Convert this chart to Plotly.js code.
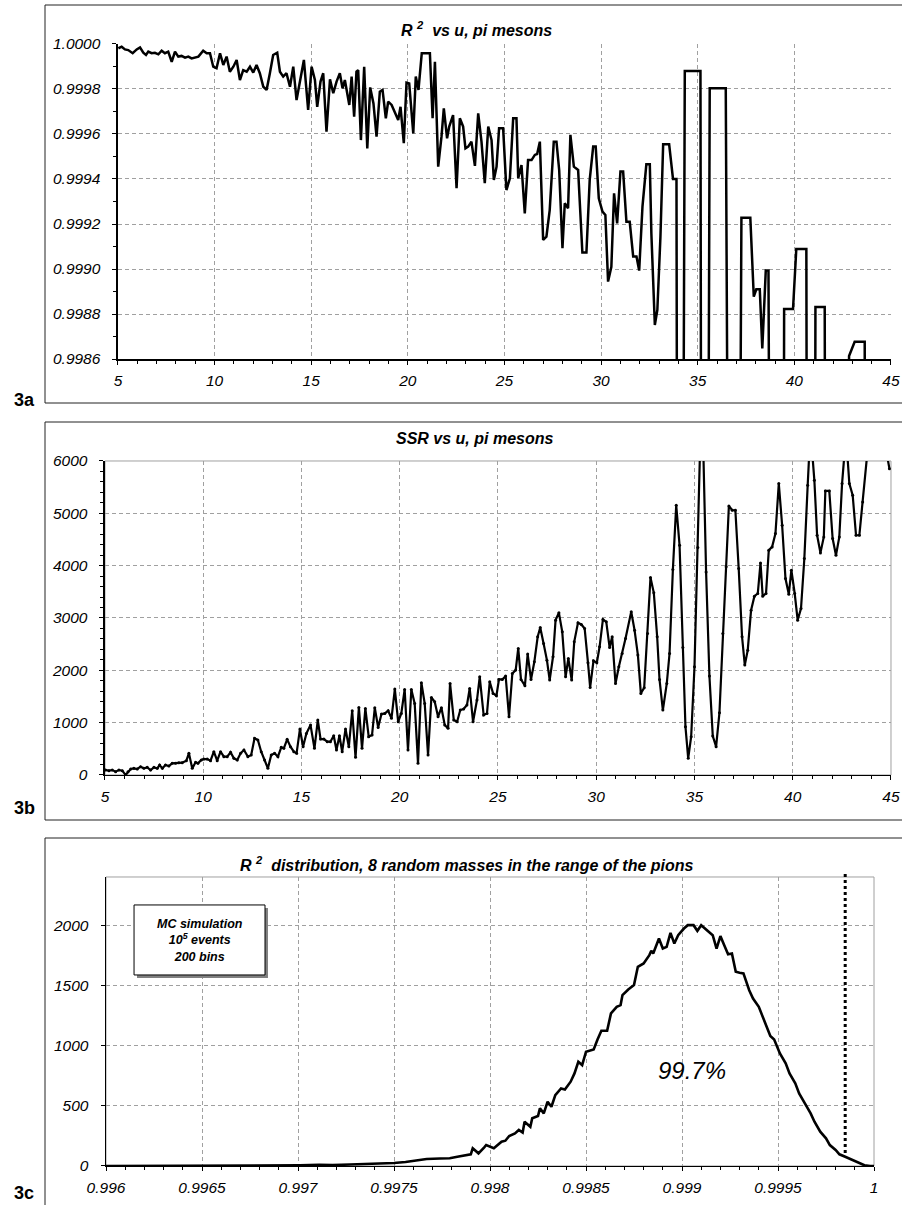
<!DOCTYPE html>
<html>
<head>
<meta charset="utf-8">
<script src="https://cdn.plot.ly/plotly-3.0.1.min.js"></script>
<style>html,body{margin:0;padding:0;background:#fff;}#chart{width:902px;height:1205px;}</style>
</head>
<body>
<div id="chart"></div>
<script>
// ---- Panel 3a: R^2 vs u ----
const u3a = [5.02,5.19,5.36,5.53,5.76,5.97,6.14,6.31,6.45,6.57,6.74,6.91,7.09,7.26,7.43,7.60,7.78,7.95,8.12,8.29,8.47,8.64,8.81,8.98,9.16,9.41,9.59,9.76,9.93,10.10,10.28,10.45,10.62,10.79,10.97,11.14,11.31,11.48,11.66,11.83,12.00,12.17,12.34,12.52,12.69,12.86,13.03,13.24,13.38,13.55,13.72,13.90,14.07,14.24,14.41,14.62,14.84,15.02,15.19,15.31,15.48,15.62,15.79,15.97,16.14,16.31,16.48,16.62,16.74,16.83,16.97,17.09,17.22,17.34,17.43,17.57,17.74,17.90,18.05,18.22,18.38,18.55,18.69,18.86,18.98,19.16,19.33,19.50,19.62,19.79,19.93,20.07,20.28,20.41,20.55,20.72,20.88,21.14,21.28,21.40,21.57,21.74,21.86,22.03,22.14,22.34,22.52,22.69,22.86,22.98,23.12,23.29,23.47,23.64,23.81,23.98,24.16,24.33,24.45,24.59,24.72,24.93,25.10,25.28,25.45,25.62,25.71,25.88,26.05,26.22,26.40,26.57,26.69,26.83,27.00,27.17,27.34,27.55,27.69,27.83,28.00,28.12,28.29,28.41,28.59,28.81,29.03,29.24,29.41,29.59,29.72,29.88,30.07,30.22,30.36,30.53,30.67,30.83,31.00,31.14,31.31,31.48,31.66,31.83,31.97,32.14,32.34,32.52,32.60,32.78,32.91,33.07,33.21,33.52,33.72,33.90,33.97,34.17,34.33,35.14,35.21,35.47,35.62,36.45,36.67,37.07,37.26,37.72,37.90,38.03,38.21,38.34,38.52,38.66,38.81,39.41,39.47,39.93,40.10,40.62,40.69,41.03,41.09,41.57,41.64,42.76,42.83,43.12,43.64,43.69,45.00];
const r2_3a = [0.999981,0.999988,0.999976,0.999973,0.999959,0.999976,0.999985,0.999961,0.999951,0.999966,0.999959,0.999961,0.999954,0.99997,0.999959,0.999966,0.999921,0.999966,0.999944,0.999947,0.999939,0.999944,0.999936,0.999941,0.999944,0.99997,0.999959,0.999959,0.999899,0.999892,0.999959,0.999907,0.999944,0.999877,0.999899,0.999929,0.99984,0.999884,0.999877,0.999899,0.999873,0.999907,0.99987,0.99981,0.999796,0.99987,0.999951,0.999961,0.999877,0.999855,0.99987,0.99981,0.999899,0.999751,0.999833,0.999929,0.999707,0.999899,0.99984,0.999721,0.999833,0.99987,0.99961,0.999843,0.999781,0.999833,0.99987,0.999803,0.99984,0.999796,0.999729,0.999855,0.999677,0.999877,0.999884,0.999573,0.999899,0.999536,0.999807,0.999736,0.999588,0.999788,0.999796,0.99967,0.999744,0.999729,0.999699,0.999662,0.999721,0.999559,0.999828,0.999825,0.999603,0.999855,0.999796,0.999959,0.999959,0.999959,0.99967,0.999921,0.999455,0.999588,0.999714,0.999581,0.999633,0.999684,0.999359,0.99967,0.999633,0.999536,0.999544,0.999566,0.999458,0.999692,0.999566,0.999381,0.999633,0.999573,0.999396,0.999455,0.999625,0.999625,0.999351,0.999403,0.99967,0.99967,0.999403,0.999462,0.999247,0.999484,0.999484,0.999507,0.999511,0.999566,0.999129,0.999144,0.999262,0.999566,0.999566,0.99944,0.999092,0.999292,0.99927,0.999596,0.999455,0.99944,0.999073,0.999073,0.999396,0.999544,0.999544,0.999314,0.999255,0.99924,0.998944,0.99901,0.999336,0.999203,0.999433,0.999433,0.99921,0.99921,0.999055,0.999055,0.998993,0.999277,0.999465,0.999465,0.999159,0.998751,0.998818,0.999144,0.999554,0.999554,0.9994,0.9994,0.9960,0.9960,0.99988,0.99988,0.9960,0.9960,0.999803,0.999803,0.9960,0.9960,0.999228,0.999228,0.998877,0.99891,0.99891,0.998647,0.998993,0.998993,0.9960,0.9960,0.998822,0.998822,0.999089,0.999089,0.9960,0.9960,0.998831,0.998831,0.9960,0.9960,0.998613,0.998677,0.998677,0.9960,0.9960];

// ---- Panel 3b: SSR vs u ----
const u3b = [5.03,5.20,5.37,5.54,5.71,5.88,6.05,6.17,6.31,6.47,6.64,6.81,6.98,7.15,7.32,7.49,7.66,7.78,7.92,8.08,8.25,8.42,8.59,8.76,8.93,9.14,9.27,9.44,9.61,9.73,9.90,10.03,10.20,10.37,10.54,10.71,10.88,11.05,11.22,11.39,11.56,11.73,11.90,12.07,12.27,12.44,12.61,12.78,12.95,13.12,13.29,13.46,13.63,13.80,13.97,14.10,14.27,14.44,14.61,14.75,14.92,15.08,15.25,15.46,15.66,15.83,15.97,16.14,16.31,16.47,16.64,16.78,16.93,17.07,17.24,17.41,17.58,17.75,17.92,18.08,18.25,18.42,18.59,18.73,18.90,19.07,19.24,19.41,19.58,19.75,19.92,20.08,20.25,20.42,20.59,20.76,20.93,21.10,21.27,21.44,21.61,21.78,21.95,22.12,22.29,22.46,22.56,22.75,22.92,23.08,23.25,23.42,23.56,23.73,23.93,24.07,24.27,24.44,24.58,24.75,24.92,25.05,25.22,25.39,25.56,25.73,25.90,26.03,26.17,26.37,26.51,26.68,26.85,27.02,27.15,27.32,27.49,27.63,27.80,27.93,28.10,28.27,28.44,28.58,28.75,28.88,29.07,29.24,29.41,29.58,29.69,29.86,30.03,30.17,30.34,30.51,30.68,30.81,30.98,31.15,31.32,31.49,31.78,31.95,32.12,32.27,32.44,32.61,32.76,32.93,33.10,33.22,33.39,33.59,33.73,33.90,34.07,34.24,34.41,34.54,34.68,34.83,35.00,35.17,35.37,35.59,35.76,35.93,36.10,36.27,36.44,36.61,36.75,36.92,37.08,37.25,37.42,37.56,37.71,37.88,38.05,38.22,38.36,38.47,38.64,38.78,38.95,39.12,39.29,39.46,39.63,39.80,39.93,40.10,40.25,40.42,40.59,40.76,40.90,41.10,41.24,41.41,41.58,41.66,41.86,42.03,42.20,42.37,42.51,42.71,42.88,43.05,43.22,43.39,43.56,43.86,44.66,44.92];
const ssr3b = [95,83,95,64,95,83,0,64,115,127,115,159,127,146,95,146,127,191,127,191,172,223,223,235,235,274,414,127,242,223,286,305,305,274,445,274,445,350,350,433,318,286,414,477,350,382,700,668,445,286,127,382,414,350,528,509,681,541,445,414,878,541,795,954,509,1050,687,687,636,636,751,477,751,445,878,541,1228,337,1292,509,1273,732,764,1285,910,1164,1177,1228,1082,1642,1018,1177,1635,477,1635,1368,223,1763,1368,382,1483,1400,1114,1285,954,891,1750,1050,1018,1241,1260,1336,1654,1018,1432,1877,1145,1177,1782,1559,1514,1826,1826,1890,1114,1941,2004,2418,1826,1705,2310,1826,2163,2641,2819,2513,2195,1813,2259,2959,3099,2736,1877,2227,1813,2545,2908,2876,2800,2144,1673,2183,2144,2450,2972,2927,2437,2641,1750,2068,2322,2609,3118,2768,2291,1559,1667,2704,3773,3481,2641,1826,1241,1750,2322,3926,5154,4390,2437,923,318,732,2068,4346,7500,3881,1890,744,541,1190,2704,3977,5141,5059,5059,3945,2641,2100,2386,3150,3417,3468,4053,3417,3468,4295,4359,4613,5568,4772,3754,3455,3913,3468,2959,3182,4136,5536,6600,5631,4581,4244,4550,5428,5428,4518,4200,4550,5568,6500,5568,5345,4581,4581,5218,6400,6400,5854];

// ---- Panel 3c: R^2 distribution (MC) ----
const r2bins3c = [0.99600,0.99614,0.99632,0.99649,0.99666,0.99684,0.99701,0.99711,0.99718,0.99727,0.99736,0.99744,0.99750,0.99756,0.99762,0.99767,0.99774,0.99779,0.99783,0.99786,0.99790,0.99791,0.99794,0.99797,0.99798,0.99802,0.99804,0.99806,0.99808,0.99810,0.99813,0.99815,0.99817,0.99818,0.99821,0.99822,0.99825,0.99826,0.99828,0.99830,0.99832,0.99834,0.99837,0.99839,0.99842,0.99844,0.99846,0.99848,0.99850,0.99854,0.99856,0.99858,0.99861,0.99863,0.99866,0.99868,0.99869,0.99872,0.99875,0.99877,0.99880,0.99883,0.99884,0.99885,0.99888,0.99890,0.99892,0.99894,0.99896,0.99898,0.99901,0.99903,0.99906,0.99908,0.99910,0.99913,0.99916,0.99918,0.99920,0.99922,0.99924,0.99926,0.99928,0.99930,0.99932,0.99935,0.99937,0.99940,0.99943,0.99946,0.99948,0.99951,0.99954,0.99956,0.99959,0.99961,0.99964,0.99967,0.99969,0.99972,0.99975,0.99977,0.99980,0.99982,0.99985,0.99988,0.99990,0.99993,0.99995,0.99998,1.00000];
const counts3c = [0,0,1,2,3,4,6,10,8,12,15,20,25,33,45,58,62,64,77,83,97,147,105,155,174,147,174,202,210,249,271,299,277,368,326,396,415,479,437,534,492,589,644,636,700,769,866,838,949,968,1051,1123,1123,1267,1322,1336,1419,1466,1502,1654,1682,1751,1787,1765,1889,1806,1820,1936,1848,1917,1972,2000,2000,1953,2000,1958,1917,1806,1909,1834,1759,1765,1613,1604,1599,1460,1391,1322,1198,1079,1051,935,852,769,686,603,520,437,368,285,230,174,133,97,77,55,36,17,6,0,0];
const cutR2 = 0.99985;

const FONT = 'Liberation Sans, Arial, Helvetica, sans-serif';
function tickFont() { return {family: FONT, size: 15.5, color: '#000', style: 'italic'}; }

function axisX(domain, anchor, range, dtick, minorDtick) {
  return {
    domain: domain, anchor: anchor, range: range, dtick: dtick, tick0: range[0],
    showline: true, linecolor: '#000', linewidth: 1.5,
    ticks: 'outside', ticklen: 4, tickwidth: 1, tickcolor: '#000',
    minor: {dtick: minorDtick, ticks: 'outside', ticklen: 3, tickwidth: 1, tickcolor: '#000', showgrid: false},
    showgrid: true, gridcolor: '#a0a0a0', gridwidth: 1, griddash: '4px,3px',
    zeroline: false, tickfont: tickFont(), tickprefix: '<i>', ticksuffix: '</i>',
    ticklabelstandoff: 3, fixedrange: true
  };
}
function axisY(domain, anchor, range, dtick, minorDtick, fmt) {
  const a = {
    domain: domain, anchor: anchor, range: range, dtick: dtick, tick0: range[0],
    showline: true, linecolor: '#000', linewidth: 1.5,
    ticks: 'outside', ticklen: 4, tickwidth: 1, tickcolor: '#000',
    showgrid: true, gridcolor: '#a0a0a0', gridwidth: 1, griddash: '4px,3px',
    zeroline: false, tickfont: tickFont(), tickprefix: '<i>', ticksuffix: '</i>',
    ticklabelstandoff: 9, fixedrange: true
  };
  if (minorDtick) a.minor = {dtick: minorDtick, ticks: 'outside', ticklen: 3, tickwidth: 1, tickcolor: '#000', showgrid: false};
  if (fmt) a.tickformat = fmt;
  return a;
}

const traces = [
  {x: u3a, y: r2_3a, xaxis: 'x', yaxis: 'y', type: 'scatter', mode: 'lines',
   line: {color: '#000', width: 2.5}, hoverinfo: 'skip'},
  {x: u3b, y: ssr3b, xaxis: 'x2', yaxis: 'y2', type: 'scatter', mode: 'lines+markers',
   line: {color: '#000', width: 2.2}, marker: {color: '#000', size: 3}, hoverinfo: 'skip'},
  {x: r2bins3c, y: counts3c, xaxis: 'x3', yaxis: 'y3', type: 'scatter', mode: 'lines',
   line: {color: '#000', width: 2.6}, hoverinfo: 'skip'}
];

const titleFont = {family: FONT, size: 16, color: '#000', weight: 'bold', style: 'italic'};
const panelFont = {family: FONT, size: 18, color: '#000', weight: 'bold'};

const layout = {
  width: 902, height: 1205,
  margin: {l: 0, r: 0, t: 0, b: 0},
  paper_bgcolor: '#fff', plot_bgcolor: '#fff',
  showlegend: false, hovermode: false,
  xaxis: axisX([0.1308, 0.9878], 'y', [5, 45], 5, 1),
  yaxis: axisY([0.70207, 0.96349], 'x', [0.9986, 1.0000], 0.0002, 0.0001, '.4f'),
  xaxis2: axisX([0.1164, 0.9878], 'y2', [5, 45], 5, 1),
  yaxis2: axisY([0.35685, 0.61743], 'x2', [0, 6000], 1000, 200),
  xaxis3: axisX([0.11752, 0.96896], 'y3', [0.996, 1.0], 0.0005, 0.0001),
  yaxis3: axisY([0.03237, 0.27220], 'x3', [0, 2400], 500, null),
  shapes: [
    // outer panel frames
    {type: 'rect', xref: 'paper', yref: 'paper', x0: 0.04989, x1: 1.02, y0: 0.66556, y1: 0.99585,
     line: {color: '#222', width: 1}, fillcolor: 'rgba(0,0,0,0)', layer: 'below'},
    {type: 'rect', xref: 'paper', yref: 'paper', x0: 0.04989, x1: 1.02, y0: 0.31950, y1: 0.64979,
     line: {color: '#222', width: 1}, fillcolor: 'rgba(0,0,0,0)', layer: 'below'},
    {type: 'rect', xref: 'paper', yref: 'paper', x0: 0.04989, x1: 1.02, y0: -0.02, y1: 0.30456,
     line: {color: '#222', width: 1}, fillcolor: 'rgba(0,0,0,0)', layer: 'below'},
    // plot-area frames (grey)
    {type: 'rect', xref: 'x2 domain', yref: 'y2 domain', x0: 0, x1: 1, y0: 0, y1: 1,
     line: {color: '#a0a0a0', width: 1}, fillcolor: 'rgba(0,0,0,0)', layer: 'below'},
    {type: 'rect', xref: 'x3 domain', yref: 'y3 domain', x0: 0, x1: 1, y0: 0, y1: 1,
     line: {color: '#a0a0a0', width: 1}, fillcolor: 'rgba(0,0,0,0)', layer: 'below'},
    // MC info box shadow + box
    {type: 'rect', xref: 'paper', yref: 'paper', x0: 0.1519, x1: 0.2971, y0: 0.1884, y1: 0.2465,
     line: {width: 0}, fillcolor: '#808080', layer: 'above'},
    {type: 'rect', xref: 'paper', yref: 'paper', x0: 0.1486, x1: 0.2938, y0: 0.1909, y1: 0.2490,
     line: {color: '#000', width: 1}, fillcolor: '#fff', layer: 'above'},
    // dotted cut line
    {type: 'line', xref: 'x3', yref: 'paper', x0: cutR2, x1: cutR2, y0: 0.04315, y1: 0.27552,
     line: {color: '#000', width: 3, dash: 'dot'}, layer: 'above'}
  ],
  annotations: [
    {xref: 'paper', yref: 'paper', x: 0.5288, y: 0.9759, xanchor: 'center', yanchor: 'middle', showarrow: false,
     text: 'R <sup>2</sup>  vs u, pi mesons', font: titleFont},
    {xref: 'paper', yref: 'paper', x: 0.5266, y: 0.6357, xanchor: 'center', yanchor: 'middle', showarrow: false,
     text: 'SSR vs u, pi mesons', font: titleFont},
    {xref: 'paper', yref: 'paper', x: 0.5177, y: 0.2830, xanchor: 'center', yanchor: 'middle', showarrow: false,
     text: 'R <sup>2</sup>  distribution, 8 random masses in the range of the pions', font: titleFont},
    {xref: 'paper', yref: 'paper', x: 0.0133, y: 0.6680, xanchor: 'left', yanchor: 'middle', showarrow: false,
     text: '3a', font: panelFont},
    {xref: 'paper', yref: 'paper', x: 0.0133, y: 0.3295, xanchor: 'left', yanchor: 'middle', showarrow: false,
     text: '3b', font: panelFont},
    {xref: 'paper', yref: 'paper', x: 0.0133, y: 0.0100, xanchor: 'left', yanchor: 'middle', showarrow: false,
     text: '3c', font: panelFont},
    {xref: 'paper', yref: 'paper', x: 0.2212, y: 0.2199, xanchor: 'center', yanchor: 'middle', showarrow: false,
     text: 'MC simulation<br>10<sup>5</sup> events<br>200 bins',
     font: {family: FONT, size: 12.5, color: '#000', weight: 'bold', style: 'italic'}},
    {xref: 'x3', yref: 'y3', x: 0.99905, y: 797, xanchor: 'center', yanchor: 'middle', showarrow: false,
     text: '99.7%', font: {family: FONT, size: 24, color: '#000', style: 'italic'}}
  ]
};

Plotly.newPlot('chart', traces, layout, {displayModeBar: false, staticPlot: true});
</script>
</body>
</html>
